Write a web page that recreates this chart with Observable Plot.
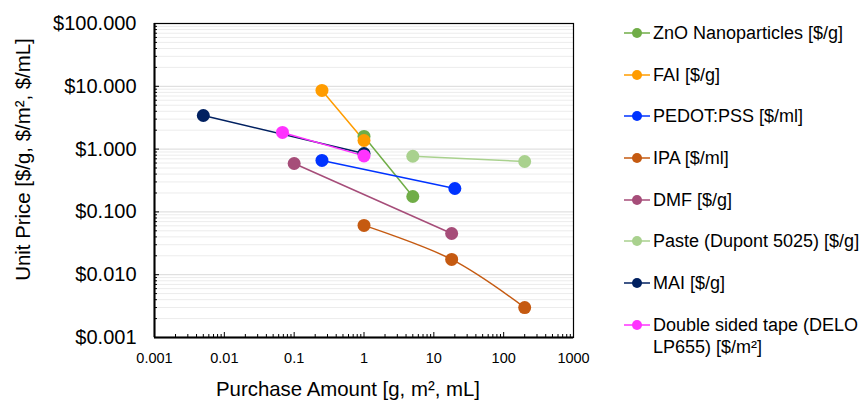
<!DOCTYPE html>
<html><head><meta charset="utf-8">
<script src="https://cdn.jsdelivr.net/npm/d3@7"></script>
<script src="https://cdn.jsdelivr.net/npm/@observablehq/plot@0.6"></script>
<style>
body{margin:0;background:#fff;font-family:Arial,"Liberation Sans",sans-serif;}
#wrap{position:relative;width:862px;height:400px;overflow:hidden}
#legend{position:absolute;left:624px;top:22px;font-size:18px;color:#000}
.item{display:flex;align-items:flex-start;line-height:22px;margin-bottom:19.7px;white-space:pre}
.item svg{flex:none;margin-right:3px}
</style></head><body><div id="wrap"><div id="chart"></div><div id="legend"></div></div>
<script>
const seriesNames = [
  "ZnO Nanoparticles [$/g]",
  "FAI [$/g]",
  "PEDOT:PSS [$/ml]",
  "IPA [$/ml]",
  "DMF [$/g]",
  "Paste (Dupont 5025) [$/g]",
  "MAI [$/g]",
  "Double sided tape (DELO\nLP655) [$/m²]"
];
const seriesColors = ["#70AD47", "#FF9C00", "#0033FF", "#C55A11", "#A64D79", "#A9D18E", "#002060", "#FF33FF"];
const amounts = [
  [1, 5],
  [0.25, 1],
  [0.25, 20],
  [1, 18, 200],
  [0.1, 18],
  [5, 200],
  [0.005, 1],
  [0.068, 1]
];
const prices = [
  [1.59, 0.176],
  [8.6, 1.37],
  [0.66, 0.236],
  [0.061, 0.0175, 0.0030],
  [0.59, 0.0453],
  [0.77, 0.635],
  [3.43, 0.85],
  [1.84, 0.78]
];
const yTicks = [0.001, 0.01, 0.1, 1, 10, 100];
const yTickLabels = ["$0.001", "$0.010", "$0.100", "$1.000", "$10.000", "$100.000"];
const xTicks = [0.001, 0.01, 0.1, 1, 10, 100, 1000];
const xTickLabels = ["0.001", "0.01", "0.1", "1", "10", "100", "1000"];
const yTitle = "Unit Price [$/g, $/m², $/mL]";
const xTitle = "Purchase Amount [g, m², mL]";

const rows = seriesNames.flatMap((s, i) => amounts[i].map((a, j) => ({series: s, amount: a, price: prices[i][j]})));

function minors(decades) {
  const out = [];
  for (let k = 0; k < decades.length - 1; k++) for (let m = 2; m <= 9; m++) out.push(decades[k] * m);
  return out;
}
const yMinor = minors(yTicks);
const xMinor = minors(xTicks);
const font = "Arial, 'Liberation Sans', sans-serif";

const chart = Plot.plot({
  width: 862, height: 400,
  marginLeft: 154, marginRight: 289, marginTop: 23, marginBottom: 63,
  style: {fontFamily: font, color: "#000", background: "transparent", overflow: "visible"},
  x: {type: "log", domain: [0.001, 1000], label: null},
  y: {type: "log", domain: [0.001, 100], label: null},
  color: {domain: seriesNames, range: seriesColors},
  marks: [
    Plot.ruleY(yMinor, {stroke: "#ececec", strokeWidth: 1}),
    Plot.ruleY(yTicks, {stroke: "#d9d9d9", strokeWidth: 1}),
    Plot.axisY({ticks: yTicks, tickSize: 0, tickPadding: 18, fontSize: 20, label: null,
      tickFormat: d => yTickLabels[yTicks.indexOf(d)]}),
    Plot.axisY({ticks: yMinor, tickSize: -3, tickFormat: () => "", label: null}),
    Plot.axisY({ticks: yTicks, tickSize: -5, tickFormat: () => "", label: null}),
    Plot.axisX({ticks: xTicks, tickSize: 0, tickPadding: 15, fontSize: 14.5, label: null,
      tickFormat: d => xTickLabels[xTicks.indexOf(d)]}),
    Plot.axisX({ticks: xMinor, tickSize: -3, tickFormat: () => "", label: null}),
    Plot.axisX({ticks: xTicks, tickSize: -5, tickFormat: () => "", label: null}),
    Plot.frame({stroke: "#000", strokeWidth: 1.2}),
    Plot.ruleX([0.001], {stroke: "#000", strokeWidth: 2}),
    Plot.ruleY([0.001], {stroke: "#000", strokeWidth: 2}),
    Plot.line(rows, {x: "amount", y: "price", z: "series", stroke: "series", strokeWidth: 1.5, curve: "catmull-rom"}),
    Plot.dot(rows, {x: "amount", y: "price", fill: "series", r: 6.5}),
    Plot.text([yTitle], {text: d => d, frameAnchor: "left", textAnchor: "middle", lineAnchor: "middle",
      rotate: -90, dx: -131, dy: -21, fontSize: 20.4}),
    Plot.text([xTitle], {text: d => d, frameAnchor: "bottom", textAnchor: "middle", lineAnchor: "middle",
      dx: -16, dy: 52, fontSize: 20.4})
  ]
});
document.getElementById("chart").appendChild(chart);

const legend = document.getElementById("legend");
seriesNames.forEach((name, i) => {
  const item = document.createElement("div");
  item.className = "item";
  const c = seriesColors[i];
  item.innerHTML = `<svg width="26" height="22"><line x1="0" x2="26" y1="11" y2="11" stroke="${c}" stroke-width="1.5"/><circle cx="13" cy="11" r="5" fill="${c}"/></svg>`;
  const span = document.createElement("span");
  span.textContent = name;
  item.appendChild(span);
  legend.appendChild(item);
});
</script>
</body></html>
